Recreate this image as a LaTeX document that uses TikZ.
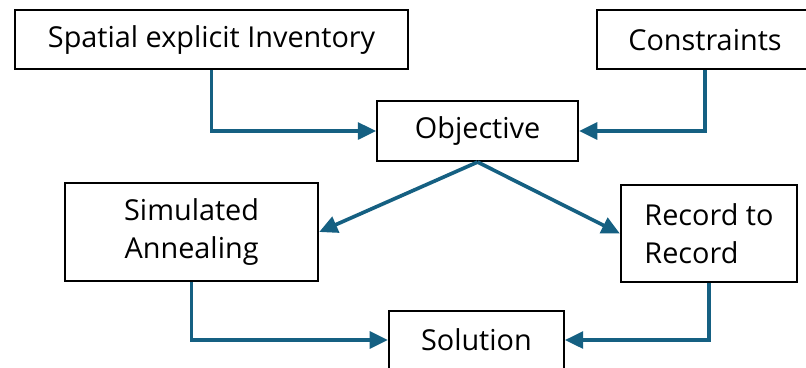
\documentclass[tikz,border=0pt]{standalone}
\usepackage{fontspec}
\setmainfont{Open Sans}
\usetikzlibrary{arrows.meta}
\definecolor{flow}{HTML}{156082}

\begin{document}
\begin{tikzpicture}[
  box/.style={draw=black, line width=1.5pt, fill=white, inner sep=0pt,
    font=\fontsize{20.5}{27}\selectfont},
  link/.style={draw=flow, line width=2.6pt,
    -{Triangle[length=13pt,width=12pt]}}
]
\clip (0,0) rectangle (20.15,-9.175);
\fill[white] (0,0) rectangle (20.15,-9.175);
% boxes
\node[box, minimum width=9.825cm, minimum height=1.475cm] (inv) at (5.29,-0.99) {Spatial explicit Inventory};
\node[box, minimum width=5.4cm, minimum height=1.475cm] (con) at (17.625,-0.99) {Constraints};
\node[box, minimum width=5.025cm, minimum height=1.5cm] (obj) at (11.94,-3.275) {Objective};
\node[box, minimum width=6.325cm, minimum height=2.45cm, align=center] (sa) at (4.79,-5.8) {Simulated\\Annealing};
\node[box, minimum width=4.4cm, minimum height=2.425cm, align=left] (rr) at (17.725,-5.84) {Record to\\Record};
\node[box, minimum width=4.375cm, minimum height=1.45cm] (sol) at (11.91,-8.5) {Solution};
% connectors
\draw[link] (inv.south) |- (obj.west);
\draw[link] (con.south) |- (obj.east);
\draw[link] (obj.south) -- (sa.east);
\draw[link] (obj.south) -- (rr.west);
\draw[link] (sa.south) |- (sol.west);
\draw[link] (rr.south) |- (sol.east);
\end{tikzpicture}
\end{document}
